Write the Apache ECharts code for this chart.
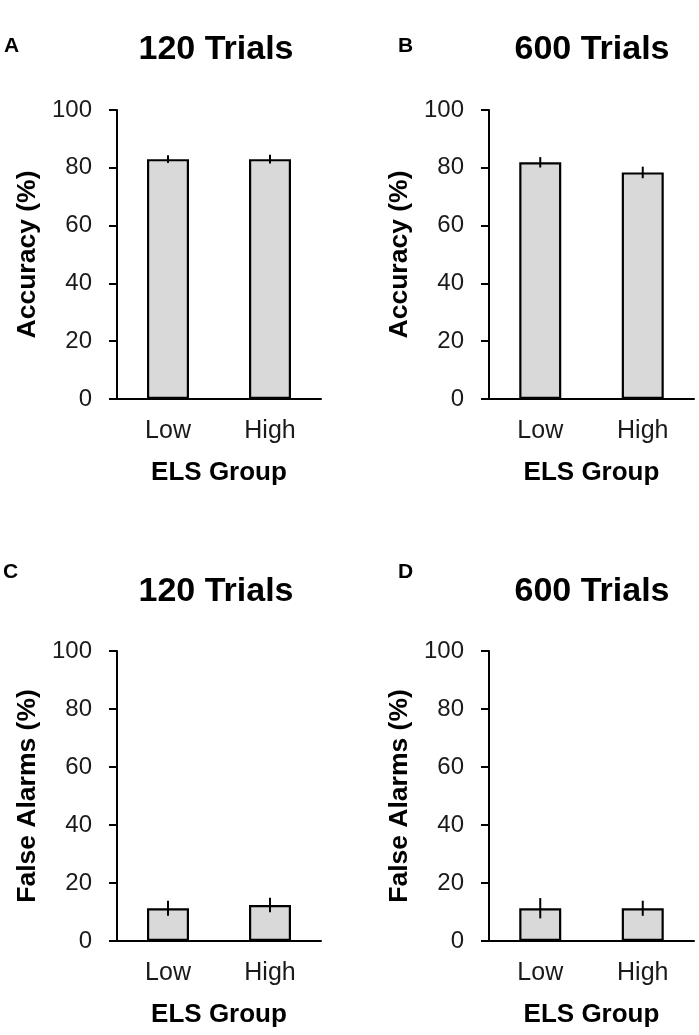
<!DOCTYPE html>
<html>
<head>
<meta charset="utf-8">
<script src="https://cdn.jsdelivr.net/npm/echarts@6/dist/echarts.min.js"></script>
<style>
html,body{margin:0;padding:0;background:#fff;}
#chart{width:699px;height:1035px;}
</style>
</head>
<body>
<div id="chart"></div>
<script>
var categories = ['Low', 'High'];
var yTickStep = 20;
var acc120 = [83.0, 83.0];
var acc120Err = [1.3, 1.5];
var acc600 = [81.9, 78.4];
var acc600Err = [1.8, 2.0];
var fa120 = [11.3, 12.4];
var fa120Err = [2.6, 2.5];
var fa600 = [11.3, 11.3];
var fa600Err = [3.5, 2.6];
var panelTitles = ['120 Trials', '600 Trials', '120 Trials', '600 Trials'];
var panelLetters = ['A', 'B', 'C', 'D'];
var yNames = ['Accuracy (%)', 'Accuracy (%)', 'False Alarms (%)', 'False Alarms (%)'];
var xName = 'ELS Group';

var FONT = '"Liberation Sans", Arial, sans-serif';
var panels = [
  {vals: acc120, err: acc120Err},
  {vals: acc600, err: acc600Err},
  {vals: fa120, err: fa120Err},
  {vals: fa600, err: fa600Err}
];
var grids = [
  {left: 117, top: 110, width: 204, height: 289},
  {left: 489, top: 110, width: 205, height: 289},
  {left: 117, top: 651, width: 204, height: 290},
  {left: 489, top: 651, width: 205, height: 290}
];
var titlePos = [[216, 50], [592, 50], [216, 592], [592, 592]];
var letterPos = [[4, 46], [398, 46], [3, 572], [398, 572]];

var xAxes = [], yAxes = [], series = [], graphics = [];
panels.forEach(function (p, i) {
  xAxes.push({
    type: 'category', gridIndex: i, data: categories,
    axisLine: {lineStyle: {color: '#000', width: 2}},
    axisTick: {show: false},
    axisLabel: {color: '#1a1a1a', fontSize: 25, fontFamily: FONT, margin: 20},
    name: xName, nameLocation: 'middle', nameGap: 61,
    nameTextStyle: {color: '#000', fontSize: 26, fontWeight: 'bold', fontFamily: FONT}
  });
  yAxes.push({
    type: 'value', gridIndex: i, min: 0, max: 100, interval: yTickStep,
    axisLine: {show: true, lineStyle: {color: '#000', width: 2}},
    axisTick: {show: true, length: 8, lineStyle: {color: '#000', width: 2}},
    splitLine: {show: false},
    axisLabel: {color: '#1a1a1a', fontSize: 24, fontFamily: FONT, margin: 25},
    name: yNames[i], nameLocation: 'middle', nameGap: 76,
    nameTextStyle: {color: '#000', fontSize: 26.5, fontWeight: 'bold', fontFamily: FONT}
  });
  series.push({
    type: 'bar', xAxisIndex: i, yAxisIndex: i, data: p.vals, barWidth: 42,
    itemStyle: {color: '#d9d9d9', borderColor: '#000', borderWidth: 2.2},
    silent: true, animation: false
  });
  series.push({
    type: 'custom', xAxisIndex: i, yAxisIndex: i, z: 5, silent: true, animation: false,
    data: p.vals.map(function (v, k) { return [k, v - p.err[k], v + p.err[k]]; }),
    renderItem: function (params, api) {
      var lo = api.coord([api.value(0), api.value(1)]);
      var hi = api.coord([api.value(0), api.value(2)]);
      return {
        type: 'line',
        shape: {x1: lo[0], y1: lo[1], x2: hi[0], y2: hi[1]},
        style: {stroke: '#000', lineWidth: 2}
      };
    }
  });
  graphics.push({
    type: 'text', x: titlePos[i][0], y: titlePos[i][1],
    style: {text: panelTitles[i], fill: '#000', font: 'bold 34px ' + FONT,
            textAlign: 'center', textVerticalAlign: 'middle'}
  });
  graphics.push({
    type: 'text', x: letterPos[i][0], y: letterPos[i][1],
    style: {text: panelLetters[i], fill: '#000', font: 'bold 21px ' + FONT,
            textAlign: 'left', textVerticalAlign: 'middle'}
  });
});

var chart = echarts.init(document.getElementById('chart'), null, {renderer: 'canvas'});
chart.setOption({
  backgroundColor: '#fff',
  animation: false,
  grid: grids,
  xAxis: xAxes,
  yAxis: yAxes,
  series: series,
  graphic: graphics
});
</script>
</body>
</html>
